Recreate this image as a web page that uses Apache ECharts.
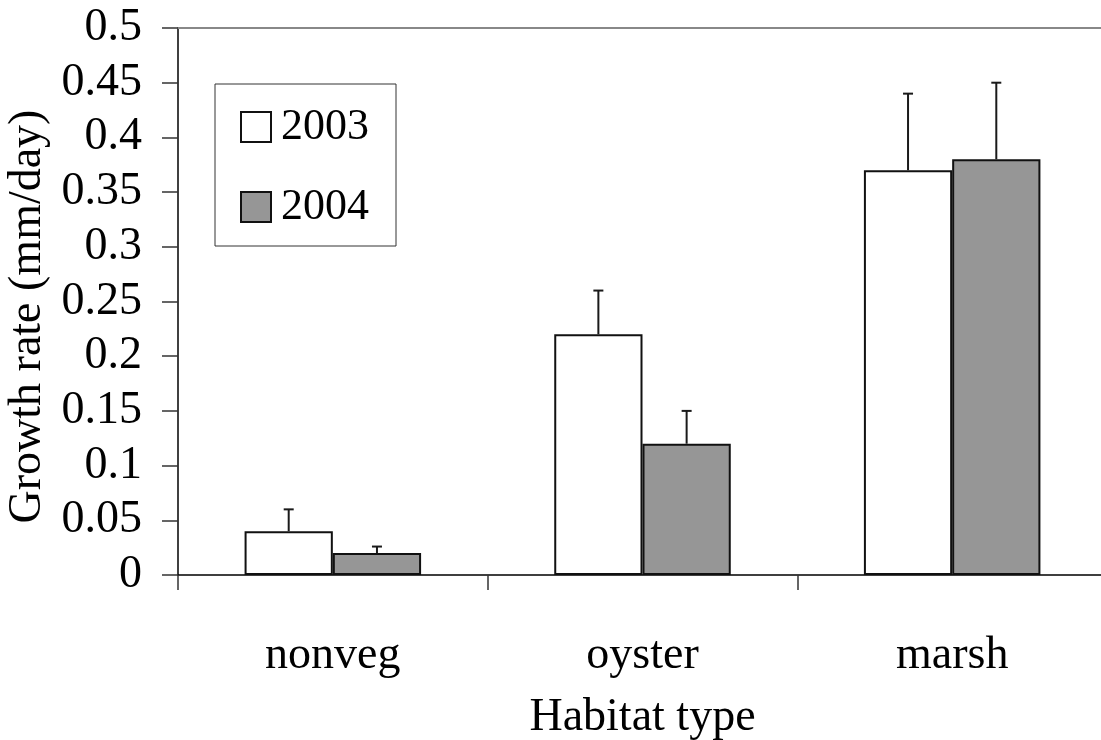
<!DOCTYPE html>
<html>
<head>
<meta charset="utf-8">
<script src="https://cdn.jsdelivr.net/npm/echarts@6/dist/echarts.min.js"></script>
<style>
html,body{margin:0;padding:0;background:#fff;}
#c{width:1101px;height:740px;}
</style>
</head>
<body>
<div id="c"></div>
<script>
const categories = ['nonveg', 'oyster', 'marsh'];
const seriesNames = ['2003', '2004'];
const values2003 = [0.04, 0.22, 0.37];
const values2004 = [0.02, 0.12, 0.38];
const errTop2003 = [0.06, 0.26, 0.44];
const errTop2004 = [0.026, 0.15, 0.45];
const yTicks = [0, 0.05, 0.1, 0.15, 0.2, 0.25, 0.3, 0.35, 0.4, 0.45, 0.5];

const FONT = '"Liberation Serif", "Times New Roman", serif';
const BAR_FRAC = 0.285;

function errSeries(tops, vals, side) {
  return {
    type: 'custom',
    z: 5,
    silent: true,
    data: tops.map((t, i) => [i, t, vals[i]]),
    renderItem: function (params, api) {
      const catW = api.size([1, 0])[0];
      const off = side * catW * BAR_FRAC / 2;
      const top = api.coord([api.value(0), api.value(1)]);
      const base = api.coord([api.value(0), api.value(2)]);
      const x = top[0] + off;
      const st = { stroke: '#1a1a1a', lineWidth: 2 };
      return {
        type: 'group',
        children: [
          { type: 'line', shape: { x1: x, y1: base[1], x2: x, y2: top[1] }, style: st },
          { type: 'line', shape: { x1: x - 5, y1: top[1], x2: x + 5, y2: top[1] }, style: st }
        ]
      };
    }
  };
}

const chart = echarts.init(document.getElementById('c'), null, { renderer: 'canvas' });
chart.setOption({
  backgroundColor: '#fff',
  animation: false,
  textStyle: { fontFamily: FONT },
  grid: { left: 178, top: 28, bottom: 165, right: -6, containLabel: false, outerBoundsMode: 'none' },
  legend: {
    orient: 'vertical',
    left: 215,
    top: 84,
    width: 182,
    padding: [20, 27, 16, 25],
    itemGap: 34,
    itemWidth: 30,
    itemHeight: 30,
    borderColor: '#333',
    borderWidth: 1,
    icon: 'rect',
    data: seriesNames,
    textStyle: { fontFamily: FONT, fontSize: 44, color: '#000', lineHeight: 46, padding: [0, 0, 0, 5] }
  },
  xAxis: [{
    type: 'category',
    data: categories,
    position: 'bottom',
    axisLine: { lineStyle: { color: '#000', width: 1.5 } },
    axisTick: { show: true, length: 15, lineStyle: { color: '#333', width: 1.5 } },
    axisLabel: { fontFamily: FONT, fontSize: 46, color: '#000', margin: 58 },
    name: 'Habitat type',
    nameLocation: 'middle',
    nameGap: 120,
    nameTextStyle: { fontFamily: FONT, fontSize: 46, color: '#000' }
  }, {
    type: 'category',
    data: categories,
    position: 'top',
    axisLine: { show: true, lineStyle: { color: '#888', width: 2 } },
    axisTick: { show: false },
    axisLabel: { show: false }
  }],
  yAxis: {
    type: 'value',
    min: 0,
    max: 0.5,
    interval: 0.05,
    axisLine: { show: true, lineStyle: { color: '#000', width: 1.5 } },
    axisTick: { show: true, length: 16, lineStyle: { color: '#333', width: 1.5 } },
    splitLine: { show: false },
    axisLabel: {
      fontFamily: FONT, fontSize: 46, color: '#000', margin: 36,
      formatter: v => { const t = yTicks.find(k => Math.abs(k - v) < 1e-9); return String(t !== undefined ? t : +v.toFixed(2)); }
    },
    name: 'Growth rate (mm/day)',
    nameLocation: 'middle',
    nameGap: 120,
    nameTextStyle: { fontFamily: FONT, fontSize: 46, color: '#000', padding: [0, 30, 0, 0] }
  },
  series: [
    {
      name: seriesNames[0], type: 'bar', data: values2003, barWidth: (BAR_FRAC * 100) + '%', barGap: '0%',
      itemStyle: { color: '#ffffff', borderColor: '#111', borderWidth: 2 }
    },
    {
      name: seriesNames[1], type: 'bar', data: values2004, barWidth: (BAR_FRAC * 100) + '%', barGap: '0%',
      itemStyle: { color: '#969696', borderColor: '#111', borderWidth: 2 }
    },
    errSeries(errTop2003, values2003, -1),
    errSeries(errTop2004, values2004, 1)
  ]
});
</script>
</body>
</html>
